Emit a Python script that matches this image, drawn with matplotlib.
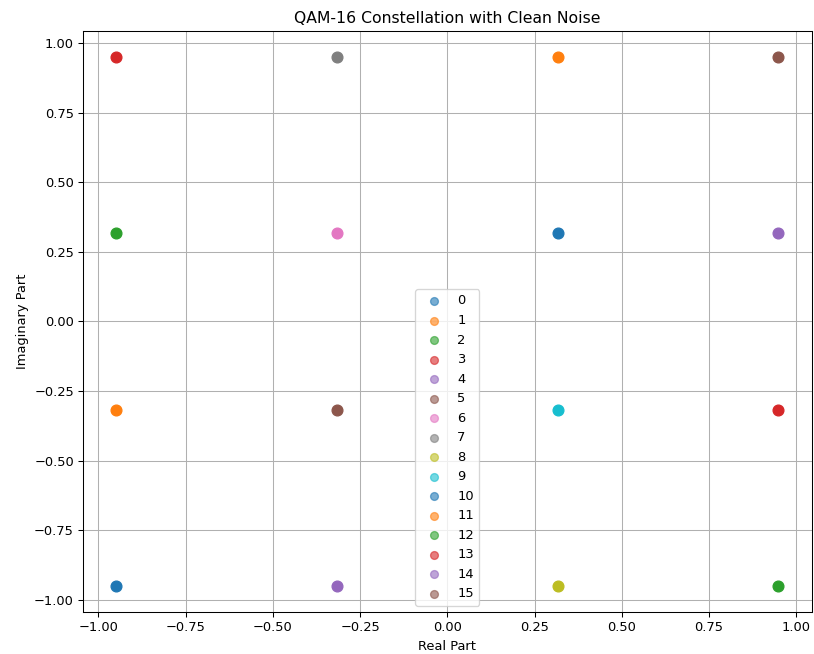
import numpy as np
import matplotlib

matplotlib.use("Agg")
import matplotlib.pyplot as plt

# 16-QAM symbol positions (normalised, 1/sqrt(10) and 3/sqrt(10))
SYMBOLS = list(range(16))
# (real, imag) of each symbol label
REAL = [0.3162, 0.3162, -0.9487, -0.9487, 0.9487, 0.9487, -0.3162, -0.3162,
        0.3162, 0.3162, -0.9487, -0.9487, 0.9487, 0.9487, -0.3162, -0.3162]
IMAG = [0.3162, 0.9487, 0.3162, 0.9487, 0.3162, 0.9487, 0.3162, 0.9487,
        -0.9487, -0.3162, -0.9487, -0.3162, -0.9487, -0.3162, -0.9487, -0.3162]

DPI = 94
fig, ax = plt.subplots(figsize=(814 / DPI, 654 / DPI), dpi=DPI)
colors = plt.cm.tab10.colors
for i, s in enumerate(SYMBOLS):
    ax.scatter(REAL[i], IMAG[i], s=68, color=colors[i % 10], alpha=1.0, label=str(s))

ax.set_title("QAM-16 Constellation with Clean Noise")
ax.set_xlabel("Real Part")
ax.set_ylabel("Imaginary Part")
ax.grid(True)
leg = ax.legend(loc="lower center")
for h in leg.legend_handles:
    h.set_alpha(0.6)
    h.set_sizes([36])

fig.subplots_adjust(left=0.102, right=0.997, top=0.953, bottom=0.064)
fig.savefig("out.png", dpi=DPI)
